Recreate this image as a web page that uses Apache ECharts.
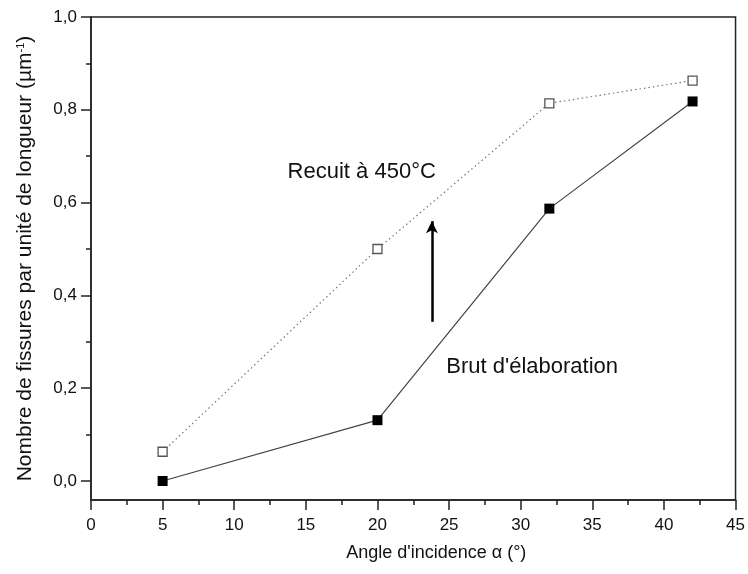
<!DOCTYPE html>
<html>
<head>
<meta charset="utf-8">
<script src="https://cdn.jsdelivr.net/npm/echarts@6/dist/echarts.min.js"></script>
<style>
html,body{margin:0;padding:0;background:#fff;}
#main{width:748px;height:574px;}
</style>
</head>
<body>
<div id="main"></div>
<script>
// Data
const angles = [5, 20, 32, 42];
const recuitValues = [0.063, 0.50, 0.814, 0.863];
const brutValues = [0.0, 0.131, 0.587, 0.818];
const yMajorTicks = [0, 0.2, 0.4, 0.6, 0.8, 1.0];
const yMinorTicks = [0.1, 0.3, 0.5, 0.7, 0.9];
const recuitLabel = 'Recuit à 450°C';
const brutLabel = "Brut d'élaboration";
const arrowX = 23.8;
const arrowFrom = 0.343;
const arrowTo = 0.56;

const FONT = '"Liberation Sans", Arial, sans-serif';
const chart = echarts.init(document.getElementById('main'), null, {renderer: 'canvas'});

const axisColor = '#222';

const option = {
  animation: false,
  backgroundColor: '#fff',
  grid: {
    left: 91, right: 11, top: 17, bottom: 74,
    show: true, borderColor: axisColor, borderWidth: 1.5, backgroundColor: 'transparent'
  },
  xAxis: {
    type: 'value', min: 0, max: 45, interval: 5,
    name: "Angle d'incidence α (°)",
    nameLocation: 'middle', nameGap: 44,
    nameTextStyle: {fontFamily: FONT, fontSize: 18, color: '#111', padding: [0, 0, 0, 46]},
    axisLine: {show: true, onZero: false, lineStyle: {color: axisColor, width: 1.5}},
    axisTick: {show: true, inside: false, length: 10, lineStyle: {color: axisColor, width: 1.5}},
    minorTick: {show: true, splitNumber: 2, length: 5, lineStyle: {color: axisColor, width: 1.5}},
    axisLabel: {fontFamily: FONT, fontSize: 17, color: '#111', margin: 17},
    splitLine: {show: false}
  },
  yAxis: [
    {
      type: 'value', min: -0.041, max: 1.0,
      name: '{t|Nombre de fissures par unité de longueur (µm}{s|-1}{t|)}',
      nameLocation: 'middle', nameGap: 55, nameRotate: 90,
      nameTextStyle: {
        fontFamily: FONT, color: '#111',
        rich: {
          t: {fontFamily: FONT, fontSize: 21, color: '#111', verticalAlign: 'bottom'},
          s: {fontFamily: FONT, fontSize: 11, color: '#111', verticalAlign: 'top', padding: [0, 0, 10, 0]}
        }
      },
      axisLine: {show: true, onZero: false, lineStyle: {color: axisColor, width: 1.5}},
      axisTick: {show: true, inside: false, length: 10, customValues: yMajorTicks, lineStyle: {color: axisColor, width: 1.5}},
      axisLabel: {
        fontFamily: FONT, fontSize: 17, color: '#111', margin: 14,
        customValues: yMajorTicks,
        formatter: v => v.toFixed(1).replace('.', ',')
      },
      splitLine: {show: false}
    },
    {
      type: 'value', min: -0.041, max: 1.0, position: 'left',
      axisLine: {show: false},
      axisTick: {show: true, inside: false, length: 5, customValues: yMinorTicks, lineStyle: {color: axisColor, width: 1.5}},
      axisLabel: {show: false},
      splitLine: {show: false}
    }
  ],
  series: [
    {
      name: 'Recuit',
      type: 'line',
      data: angles.map((a, i) => [a, recuitValues[i]]),
      symbol: 'rect', symbolSize: 9,
      itemStyle: {color: '#fff', borderColor: '#555', borderWidth: 1.3},
      lineStyle: {color: '#777', width: 1.2, type: [1.5, 3]},
      z: 3
    },
    {
      name: 'Brut',
      type: 'line',
      data: angles.map((a, i) => [a, brutValues[i]]),
      symbol: 'rect', symbolSize: 10,
      itemStyle: {color: '#000', borderColor: '#000', borderWidth: 0},
      lineStyle: {color: '#444', width: 1.2, type: 'solid'},
      markLine: {
        silent: true,
        symbol: ['none', 'arrow'],
        symbolSize: [9, 12],
        lineStyle: {color: '#000', width: 2.5, type: 'solid'},
        label: {show: false},
        data: [[{coord: [arrowX, arrowFrom]}, {coord: [arrowX, arrowTo]}]]
      },
      z: 4
    }
  ]
};
chart.setOption(option);

const p1 = chart.convertToPixel({xAxisIndex: 0, yAxisIndex: 0}, [18.9, 0.667]);
const p2 = chart.convertToPixel({xAxisIndex: 0, yAxisIndex: 0}, [30.8, 0.246]);
chart.setOption({
  graphic: [
    {type: 'text', x: p1[0], y: p1[1], style: {text: recuitLabel, font: '22px ' + FONT, fill: '#111', align: 'center', verticalAlign: 'middle'}},
    {type: 'text', x: p2[0], y: p2[1], style: {text: brutLabel, font: '22px ' + FONT, fill: '#111', align: 'center', verticalAlign: 'middle'}}
  ]
});
</script>
</body>
</html>
